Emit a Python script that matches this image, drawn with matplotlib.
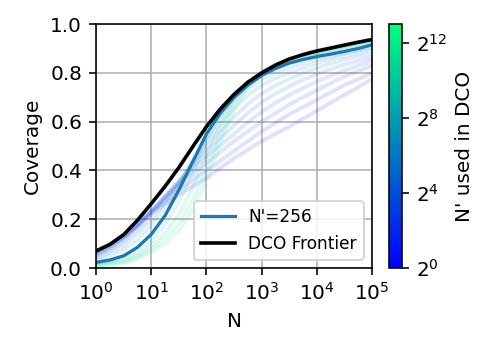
import numpy as np
import matplotlib
matplotlib.use("Agg")
import matplotlib.pyplot as plt
from matplotlib.colors import Normalize
from matplotlib.cm import ScalarMappable

# N grid (quarter-decade steps, 10^0 .. 10^5)
log10_N = [0, 0.25, 0.5, 0.75, 1, 1.25, 1.5, 1.75, 2, 2.25, 2.5,
           2.75, 3, 3.25, 3.5, 3.75, 4, 4.25, 4.5, 4.75, 5]
N = [10 ** v for v in log10_N]

# coverage curves for N' = 2^0 ... 2^12
log2_nprime = [0, 1, 2, 3, 4, 5, 6, 7, 8, 9, 10, 11, 12]
cov_k0 = [0.066, 0.095, 0.13, 0.175, 0.225, 0.262, 0.30, 0.335, 0.37, 0.41, 0.45,
          0.485, 0.52, 0.55, 0.58, 0.612, 0.645, 0.678, 0.71, 0.742, 0.775]
cov_k1 = [0.064, 0.093, 0.13, 0.178, 0.232, 0.277, 0.32, 0.36, 0.40, 0.44, 0.48,
          0.52, 0.56, 0.595, 0.63, 0.66, 0.69, 0.72, 0.75, 0.775, 0.80]
cov_k2 = [0.06, 0.09, 0.127, 0.177, 0.235, 0.29, 0.34, 0.385, 0.43, 0.475, 0.52,
          0.56, 0.60, 0.635, 0.67, 0.70, 0.73, 0.758, 0.785, 0.808, 0.83]
cov_k3 = [0.056, 0.086, 0.123, 0.175, 0.235, 0.295, 0.35, 0.403, 0.455, 0.503, 0.55,
          0.597, 0.64, 0.677, 0.71, 0.738, 0.765, 0.788, 0.81, 0.83, 0.85]
cov_k4 = [0.052, 0.08, 0.117, 0.17, 0.23, 0.293, 0.355, 0.415, 0.475, 0.532, 0.585,
          0.635, 0.68, 0.715, 0.745, 0.772, 0.795, 0.816, 0.835, 0.85, 0.865]
cov_k5 = [0.047, 0.073, 0.107, 0.158, 0.22, 0.287, 0.355, 0.425, 0.495, 0.56, 0.62,
          0.672, 0.715, 0.748, 0.775, 0.799, 0.82, 0.838, 0.855, 0.868, 0.88]
cov_k6 = [0.04, 0.063, 0.093, 0.14, 0.20, 0.272, 0.35, 0.433, 0.515, 0.59, 0.655,
          0.708, 0.75, 0.778, 0.80, 0.82, 0.84, 0.856, 0.87, 0.883, 0.895]
cov_k7 = [0.032, 0.05, 0.075, 0.115, 0.175, 0.252, 0.34, 0.44, 0.535, 0.617, 0.685,
          0.735, 0.775, 0.80, 0.82, 0.838, 0.855, 0.868, 0.88, 0.892, 0.905]
cov_k8 = [0.023, 0.033, 0.05, 0.085, 0.138, 0.215, 0.32, 0.435, 0.55, 0.635, 0.70,
          0.75, 0.79, 0.818, 0.84, 0.855, 0.867, 0.877, 0.888, 0.90, 0.915]
cov_k9 = [0.018, 0.027, 0.04, 0.065, 0.11, 0.18, 0.27, 0.39, 0.52, 0.63, 0.71,
          0.76, 0.80, 0.828, 0.85, 0.863, 0.875, 0.888, 0.90, 0.91, 0.92]
cov_k10 = [0.014, 0.021, 0.03, 0.052, 0.09, 0.145, 0.22, 0.33, 0.46, 0.59, 0.70,
           0.76, 0.80, 0.83, 0.853, 0.867, 0.88, 0.893, 0.905, 0.915, 0.925]
cov_k11 = [0.011, 0.017, 0.025, 0.043, 0.075, 0.12, 0.18, 0.28, 0.40, 0.55, 0.68,
           0.755, 0.80, 0.832, 0.855, 0.87, 0.883, 0.897, 0.91, 0.92, 0.93]
cov_k12 = [0.009, 0.014, 0.02, 0.037, 0.065, 0.10, 0.15, 0.24, 0.36, 0.51, 0.65,
           0.74, 0.80, 0.835, 0.857, 0.872, 0.885, 0.898, 0.912, 0.924, 0.935]
family = [cov_k0, cov_k1, cov_k2, cov_k3, cov_k4, cov_k5, cov_k6,
          cov_k7, cov_k8, cov_k9, cov_k10, cov_k11, cov_k12]

frontier = [0.07, 0.097, 0.137, 0.196, 0.264, 0.335, 0.412, 0.497, 0.58, 0.652, 0.712,
            0.762, 0.80, 0.832, 0.857, 0.875, 0.89, 0.902, 0.914, 0.926, 0.937]
highlight_k = 8  # N'=256

plt.rcParams['font.size'] = 10
fig = plt.figure(figsize=(498 / 144, 355 / 144), dpi=144)
ax = fig.add_axes([0.193, 0.245, 0.554, 0.687])
cax = fig.add_axes([0.781, 0.245, 0.026, 0.687])

cmap = plt.get_cmap('winter')
norm = Normalize(vmin=0, vmax=13)

for k, cov in zip(log2_nprime, family):
    ax.plot(N, cov, color=cmap(norm(k)), alpha=0.12, lw=2)

ax.plot(N, family[highlight_k], color='C0', lw=1.6, label="N'=256")
ax.plot(N, frontier, color='black', lw=1.8, label='DCO Frontier')

ax.set_xscale('log')
ax.set_xlim(1, 1e5)
ax.set_ylim(0, 1)
ax.set_xticks([1, 10, 100, 1000, 10000, 100000])
ax.set_xlabel('N')
ax.set_ylabel('Coverage')
ax.grid(True)
ax.legend(loc='lower right', fontsize=8.5)

sm = ScalarMappable(norm=norm, cmap=cmap)
cb = fig.colorbar(sm, cax=cax)
cb.set_ticks([0, 4, 8, 12])
cb.set_ticklabels(['$2^{0}$', '$2^{4}$', '$2^{8}$', '$2^{12}$'])
cb.set_label("N' used in DCO")

fig.savefig('out.png', dpi=144)
